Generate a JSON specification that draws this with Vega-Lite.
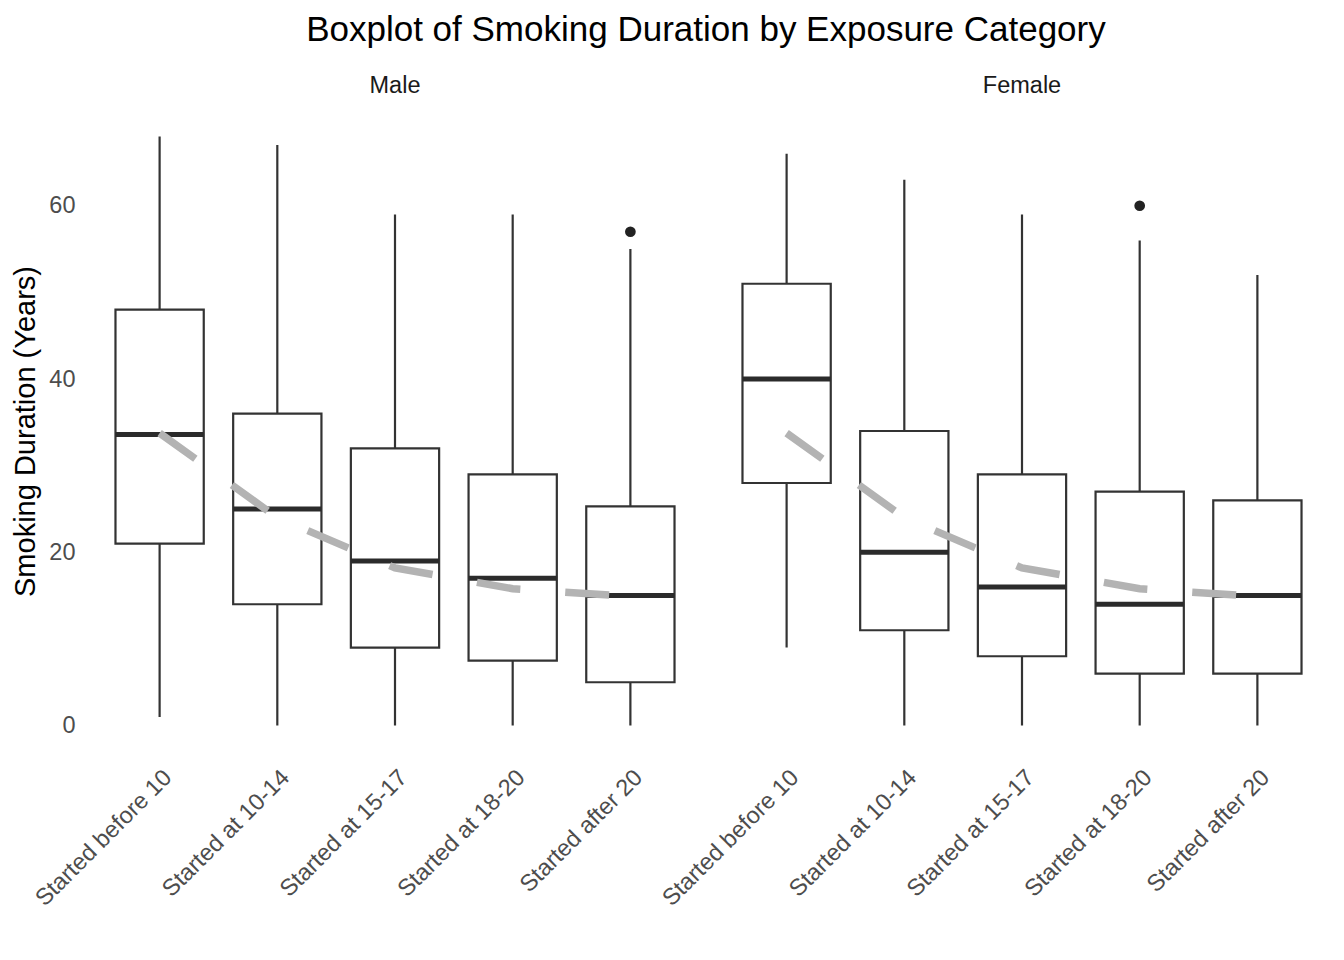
{
  "$schema": "https://vega.github.io/schema/vega-lite/v6.json",
  "padding": {"left": 11, "top": 12, "right": 10, "bottom": 5},
  "background": "white",
  "title": {"text": "Boxplot of Smoking Duration by Exposure Category", "fontSize": 35, "font": "Liberation Sans", "fontWeight": "normal", "color": "black", "anchor": "middle", "offset": 26, "dx": 36},
  "data": {"values": [
    {"kind": "box", "sex": "Male", "category": "Started before 10", "lower": 1, "q1": 21, "median": 33.6, "q3": 48, "upper": 68, "trend": 33.75},
    {"kind": "box", "sex": "Male", "category": "Started at 10-14", "lower": 0, "q1": 14, "median": 25, "q3": 36, "upper": 67, "trend": 24.0},
    {"kind": "box", "sex": "Male", "category": "Started at 15-17", "lower": 0, "q1": 9, "median": 19, "q3": 32, "upper": 59, "trend": 18.2},
    {"kind": "box", "sex": "Male", "category": "Started at 18-20", "lower": 0, "q1": 7.5, "median": 17, "q3": 29, "upper": 59, "trend": 15.8},
    {"kind": "box", "sex": "Male", "category": "Started after 20", "lower": 0, "q1": 5, "median": 15, "q3": 25.3, "upper": 55, "trend": 14.9},
    {"kind": "box", "sex": "Female", "category": "Started before 10", "lower": 9, "q1": 28, "median": 40, "q3": 51, "upper": 66, "trend": 33.75},
    {"kind": "box", "sex": "Female", "category": "Started at 10-14", "lower": 0, "q1": 11, "median": 20, "q3": 34, "upper": 63, "trend": 24.0},
    {"kind": "box", "sex": "Female", "category": "Started at 15-17", "lower": 0, "q1": 8, "median": 16, "q3": 29, "upper": 59, "trend": 18.2},
    {"kind": "box", "sex": "Female", "category": "Started at 18-20", "lower": 0, "q1": 6, "median": 14, "q3": 27, "upper": 56, "trend": 15.8},
    {"kind": "box", "sex": "Female", "category": "Started after 20", "lower": 0, "q1": 6, "median": 15, "q3": 26, "upper": 52, "trend": 14.9},
    {"kind": "outlier", "sex": "Male", "category": "Started after 20", "value": 57},
    {"kind": "outlier", "sex": "Female", "category": "Started at 18-20", "value": 60}
  ]},
  "facet": {"column": {"field": "sex", "type": "nominal", "sort": ["Male", "Female"],
    "header": {"title": null, "labelFontSize": 23.5, "labelFont": "Liberation Sans", "labelColor": "#1A1A1A", "labelPadding": 10}}},
  "spacing": 15,
  "spec": {
    "width": 612,
    "height": 648,
    "encoding": {
      "x": {"field": "category", "type": "nominal",
        "sort": ["Started before 10", "Started at 10-14", "Started at 15-17", "Started at 18-20", "Started after 20"],
        "scale": {"type": "band", "paddingInner": 0, "paddingOuter": 0.1},
        "axis": {"title": null, "labelAngle": -45, "labelAlign": "right", "labelBaseline": "top", "labelPadding": 10, "labelLimit": 0}}
    },
    "layer": [
      {"transform": [{"filter": "datum.kind === 'box'"}],
       "mark": {"type": "rule", "color": "#333333", "strokeWidth": 2.2},
       "encoding": {
         "y": {"field": "lower", "type": "quantitative", "scale": {"domain": [-3.4, 71.4], "nice": false, "zero": false},
           "axis": {"title": "Smoking Duration (Years)", "values": [0, 20, 40, 60]}},
         "y2": {"field": "upper"}}},
      {"transform": [{"filter": "datum.kind === 'box'"}],
       "mark": {"type": "bar", "fill": "white", "stroke": "#333333", "strokeWidth": 2.2, "width": {"band": 0.75}},
       "encoding": {"y": {"field": "q1", "type": "quantitative"}, "y2": {"field": "q3"}}},
      {"transform": [{"filter": "datum.kind === 'box'"}],
       "mark": {"type": "tick", "color": "#2B2B2B", "size": 88, "thickness": 5, "opacity": 1},
       "encoding": {"y": {"field": "median", "type": "quantitative"}}},
      {"transform": [{"filter": "datum.kind === 'outlier'"}],
       "mark": {"type": "point", "filled": true, "color": "#222222", "size": 115, "opacity": 1},
       "encoding": {"y": {"field": "value", "type": "quantitative"}}},
      {"transform": [{"filter": "datum.kind === 'box'"}],
       "mark": {"type": "line", "color": "#B3B3B3", "strokeWidth": 7.5, "strokeDash": [44, 45], "strokeCap": "butt"},
       "encoding": {"y": {"field": "trend", "type": "quantitative"}}}
    ]
  },
  "config": {
    "font": "Liberation Sans",
    "view": {"stroke": null},
    "axis": {"grid": false, "domain": false, "ticks": false, "labelFontSize": 23.5, "labelColor": "#4D4D4D", "labelFont": "Liberation Sans",
      "titleFontSize": 29, "titleFontWeight": "normal", "titleColor": "black", "titleFont": "Liberation Sans"},
    "axisY": {"labelPadding": 14, "titlePadding": 8}
  }
}
